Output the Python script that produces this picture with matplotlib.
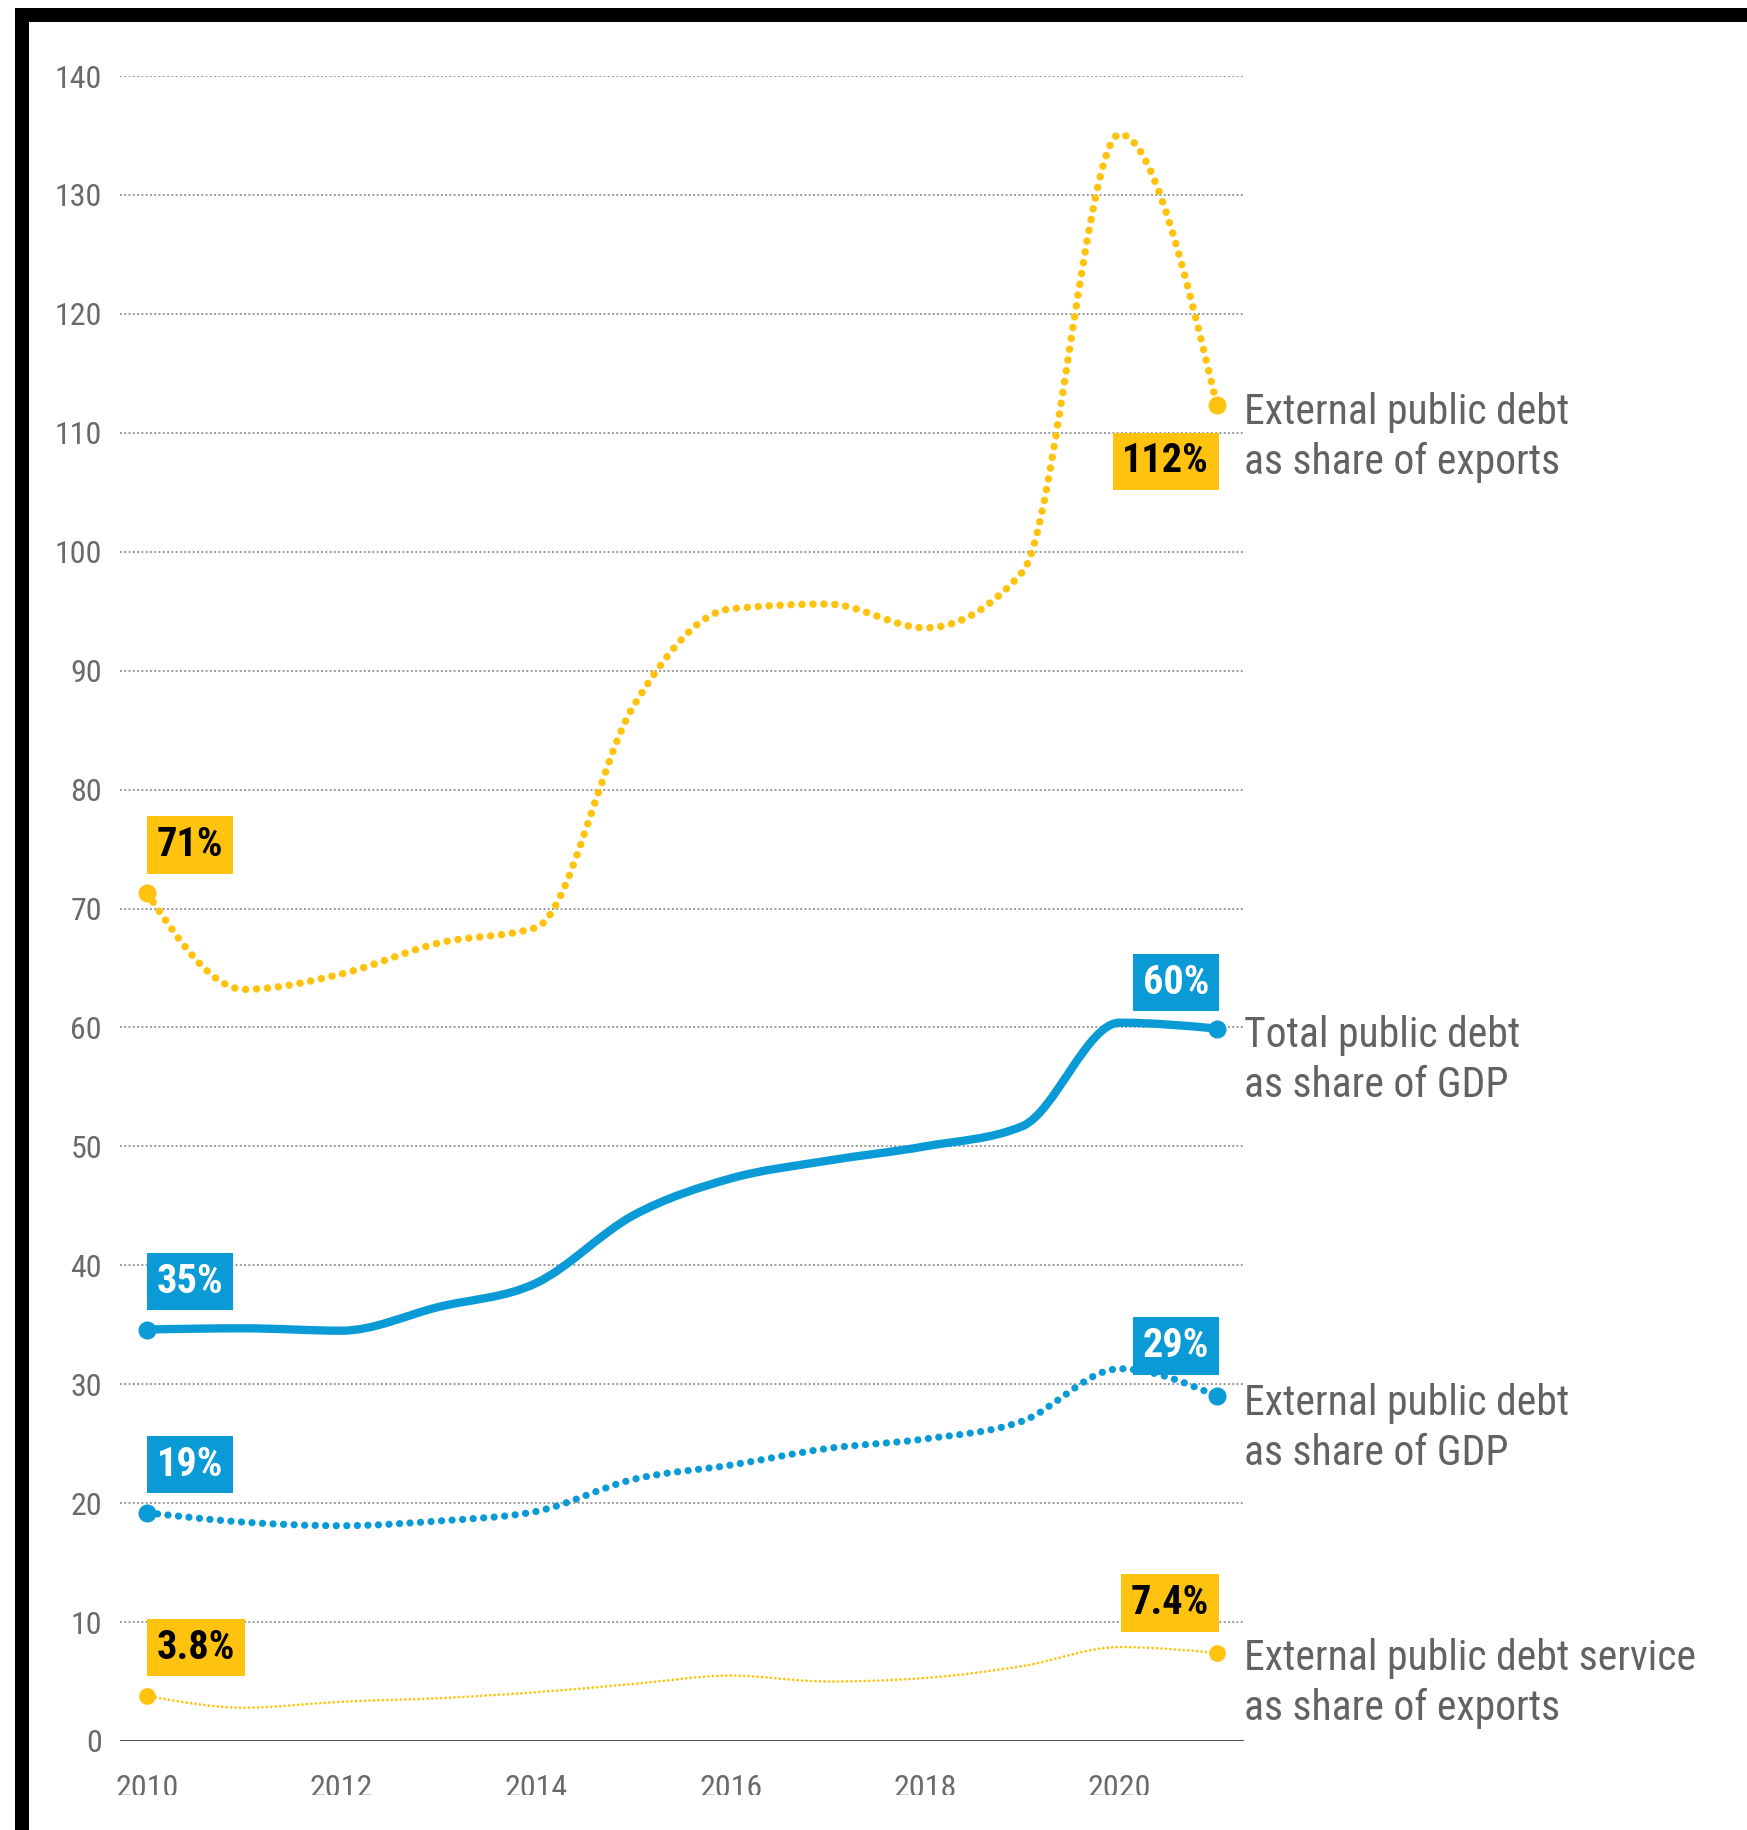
import numpy as np
import matplotlib
matplotlib.use("Agg")
import matplotlib.pyplot as plt
from matplotlib.path import Path
from matplotlib.patches import PathPatch, Rectangle

# ---------------- data ----------------
years = [2010, 2011, 2012, 2013, 2014, 2015, 2016, 2017, 2018, 2019, 2020, 2021]
ext_debt_exports = [71.3, 63.2, 64.5, 67.1, 68.4, 87.0, 95.2, 95.6, 93.6, 98.3, 135.1, 112.3]
total_debt_gdp = [34.6, 34.7, 34.5, 36.5, 38.5, 44.2, 47.3, 48.8, 50.0, 51.7, 60.4, 59.9]
ext_debt_gdp = [19.2, 18.4, 18.1, 18.5, 19.3, 22.0, 23.2, 24.6, 25.4, 26.9, 31.3, 29.0]
ext_service_exports = [3.8, 2.8, 3.3, 3.6, 4.1, 4.8, 5.5, 5.0, 5.3, 6.3, 7.9, 7.4]

series_names = ["External public debt\nas share of exports",
                "Total public debt\nas share of GDP",
                "External public debt\nas share of GDP",
                "External public debt service\nas share of exports"]
start_labels = ["71%", "35%", "19%", "3.8%"]
end_labels = ["112%", "60%", "29%", "7.4%"]
name_label_y = [109.6, 57.2, 26.3, 4.8]

yticks = list(range(0, 141, 10))
xticks = [2010, 2012, 2014, 2016, 2018, 2020]

YELLOW = "#FFC20E"
BLUE = "#0A9BD7"
TXT = "#626262"

FONT = ["Liberation Sans Narrow", "Roboto Condensed", "Roboto", "DejaVu Sans"]
plt.rcParams["font.family"] = FONT


def monotone_path(x, y):
    """Cubic Bezier path through the points, with monotone-X tangents."""
    x = np.asarray(x, float)
    y = np.asarray(y, float)
    n = len(x)
    h = np.diff(x)
    s = np.diff(y) / h
    t = np.zeros(n)
    for i in range(1, n - 1):
        h0, h1, s0, s1 = h[i - 1], h[i], s[i - 1], s[i]
        p = (s0 * h1 + s1 * h0) / (h0 + h1)
        t[i] = (np.sign(s0) + np.sign(s1)) * min(abs(s0), abs(s1), 0.5 * abs(p))
    t[0] = (3 * s[0] - t[1]) / 2
    t[-1] = (3 * s[-1] - t[-2]) / 2
    verts = [(x[0], y[0])]
    codes = [Path.MOVETO]
    for i in range(n - 1):
        dx = (x[i + 1] - x[i]) / 3
        verts += [(x[i] + dx, y[i] + dx * t[i]),
                  (x[i + 1] - dx, y[i + 1] - dx * t[i + 1]),
                  (x[i + 1], y[i + 1])]
        codes += [Path.CURVE4] * 3
    return Path(verts, codes)


W, H = 1747, 1830
fig = plt.figure(figsize=(W / 100, H / 100), dpi=100)
fig.patch.set_facecolor("white")

ax_l, ax_r, ax_t, ax_b = 120, 1244, 76, 1741
ax = fig.add_axes([ax_l / W, 1 - ax_b / H, (ax_r - ax_l) / W, (ax_b - ax_t) / H])
ax.set_xlim(2010 - 27 / 97.3, 2021 + 27 / 97.3)
ax.set_ylim(0, 140)
for sp in ax.spines.values():
    sp.set_visible(False)
ax.set_yticks(yticks)
ax.set_xticks(xticks)
ax.tick_params(axis="both", length=0, labelsize=23, labelcolor="#6a6a6a")
ax.tick_params(axis="y", pad=13)
ax.tick_params(axis="x", pad=24)
ax.grid(axis="y", color="#9a9a9a", linestyle=(0, (1, 1.2)), linewidth=1.4)
ax.grid(axis="x", visible=False)
ax.axhline(0, color="#555555", linewidth=2.2, zorder=3)

styles = [
    dict(color=YELLOW, lw=5.4, ls=(0, (0.01, 1.45)), ms=12),
    dict(color=BLUE, lw=6.0, ls="-", ms=12),
    dict(color=BLUE, lw=5.2, ls=(0, (0.01, 1.45)), ms=12),
    dict(color=YELLOW, lw=2.0, ls=(0, (0.01, 1.6)), ms=11),
]
all_series = [ext_debt_exports, total_debt_gdp, ext_debt_gdp, ext_service_exports]

for vals, st in zip(all_series, styles):
    patch = PathPatch(monotone_path(years, vals), fill=False, edgecolor=st["color"],
                      linewidth=st["lw"], linestyle=st["ls"], capstyle="round",
                      joinstyle="round", zorder=4, clip_on=False)
    ax.add_patch(patch)
    ax.plot([years[0], years[-1]], [vals[0], vals[-1]], linestyle="none", marker="o",
            markersize=st["ms"], color=st["color"], zorder=5, clip_on=False)

# value boxes
box_colors = [YELLOW, BLUE, BLUE, YELLOW]
box_text_colors = ["black", "white", "white", "black"]
end_offsets_px = [-56, 46, 50, 50]
px = 72 / 100  # points per pixel
for i, vals in enumerate(all_series):
    bb = dict(boxstyle="square,pad=0.24", facecolor=box_colors[i], edgecolor="none")
    ax.annotate(start_labels[i], xy=(years[0], vals[0]),
                xytext=(10 * px, 48 * px), textcoords="offset points",
                ha="left", va="center", fontsize=29, fontweight="bold",
                color=box_text_colors[i], bbox=bb, zorder=6, annotation_clip=False)
    ax.annotate(end_labels[i], xy=(years[-1], vals[-1]),
                xytext=(-8 * px, end_offsets_px[i] * px), textcoords="offset points",
                ha="right", va="center", fontsize=29, fontweight="bold",
                color=box_text_colors[i], bbox=bb, zorder=6, annotation_clip=False)
    ax.annotate(series_names[i], xy=(1.0, name_label_y[i]),
                xycoords=("axes fraction", "data"),
                xytext=(0, 0), textcoords="offset points",
                ha="left", va="center", fontsize=30, color=TXT,
                linespacing=1.28, annotation_clip=False)

# cover clipped bottom of x tick labels, then the black frame
fig.patches.append(Rectangle((29 / W, 0), 1, (H - 1795) / H, transform=fig.transFigure,
                             facecolor="white", edgecolor="none", zorder=10))
fig.patches.append(Rectangle((15 / W, (H - 22) / H), 1, 14 / H, transform=fig.transFigure,
                             facecolor="black", edgecolor="none", zorder=11))
fig.patches.append(Rectangle((15 / W, 0), 14 / W, (H - 8) / H, transform=fig.transFigure,
                             facecolor="black", edgecolor="none", zorder=11))

fig.savefig("out.png", dpi=100)
